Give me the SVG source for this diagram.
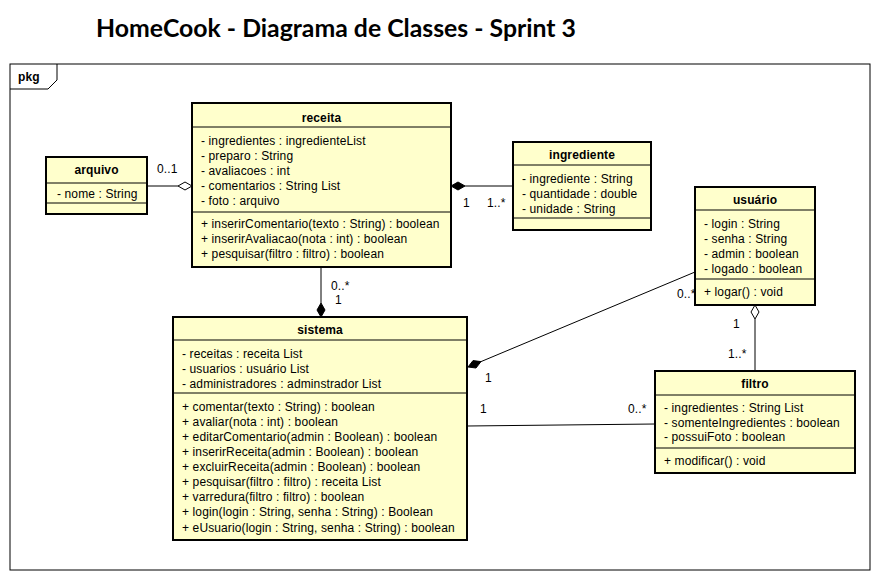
<svg xmlns="http://www.w3.org/2000/svg" width="892" height="582" viewBox="0 0 892 582">
<style>
.box{fill:#FFFFCC;stroke:#000;stroke-width:2}
.sep{stroke:#000;stroke-width:1}
.t{font-family:"Liberation Sans",Arial,sans-serif;font-size:12px;fill:#000;letter-spacing:0.12px}
.b{font-weight:bold;text-anchor:middle}
.ln{stroke:#000;stroke-width:1;fill:none}
.hd{fill:#fff;stroke:#000;stroke-width:1}
.fd{fill:#000;stroke:#000;stroke-width:1}
</style>
<rect width="892" height="582" fill="#fff"/>
<text x="96" y="37" font-family="Lato,'Open Sans',sans-serif" font-weight="bold" font-size="25" textLength="480" lengthAdjust="spacingAndGlyphs">HomeCook - Diagrama de Classes - Sprint 3</text>
<g id="pkg">
<rect x="10" y="64" width="860" height="506" fill="none" stroke="#000" stroke-width="1"/>
<path d="M10,89 H48 L57,80 V64" fill="none" stroke="#000" stroke-width="1"/>
<text class="t" x="18" y="81" font-weight="bold">pkg</text>
</g>
<g id="connectors">
<line class="ln" x1="147" y1="186" x2="178" y2="186"/>
<polygon class="hd" points="192,186 185,182 178,186 185,190"/>
<text class="t" x="157" y="173">0..1</text>
<polygon class="fd" points="451,186 458,182 465,186 458,190"/>
<line class="ln" x1="465" y1="186" x2="513" y2="186"/>
<text class="t" x="463" y="207">1</text>
<text class="t" x="487" y="207">1..*</text>
<line class="ln" x1="321" y1="267" x2="321" y2="303"/>
<polygon class="fd" points="321,317 325,310 321,303 317,310"/>
<text class="t" x="331" y="290">0..*</text>
<text class="t" x="335" y="304">1</text>
<polygon class="fd" points="468,367 476,368 481,361.6 473,360.6"/>
<line class="ln" x1="481" y1="361.6" x2="695" y2="272"/>
<text class="t" x="485" y="382">1</text>
<text class="t" x="677" y="298">0..*</text>
<line class="ln" x1="467" y1="426" x2="655" y2="424"/>
<text class="t" x="480" y="413">1</text>
<text class="t" x="628" y="413">0..*</text>
<polygon class="hd" points="755,305 759,312 755,319 751,312"/>
<line class="ln" x1="755" y1="319" x2="755" y2="371"/>
<text class="t" x="733" y="328">1</text>
<text class="t" x="728" y="358">1..*</text>
</g>
<g id="receita">
<rect class="box" x="192" y="103" width="259" height="164"/>
<line class="sep" x1="192" y1="127" x2="451" y2="127"/>
<line class="sep" x1="192" y1="212" x2="451" y2="212"/>
<text class="t b" x="321.5" y="122">receita</text>
<text class="t" x="201" y="145">- ingredientes : ingredienteList</text>
<text class="t" x="201" y="160">- preparo : String</text>
<text class="t" x="201" y="175">- avaliacoes : int</text>
<text class="t" x="201" y="190">- comentarios : String List</text>
<text class="t" x="201" y="205">- foto : arquivo</text>
<text class="t" x="201" y="228">+ inserirComentario(texto : String) : boolean</text>
<text class="t" x="201" y="243">+ inserirAvaliacao(nota : int) : boolean</text>
<text class="t" x="201" y="258">+ pesquisar(filtro : filtro) : boolean</text>
</g>
<g id="arquivo">
<rect class="box" x="46" y="157" width="101" height="57"/>
<line class="sep" x1="46" y1="183" x2="147" y2="183"/>
<line class="sep" x1="46" y1="203" x2="147" y2="203"/>
<text class="t b" x="96.5" y="174">arquivo</text>
<text class="t" x="57" y="198">- nome : String</text>
</g>
<g id="ingrediente">
<rect class="box" x="513" y="142" width="138" height="88"/>
<line class="sep" x1="513" y1="165" x2="651" y2="165"/>
<line class="sep" x1="513" y1="218" x2="651" y2="218"/>
<text class="t b" x="582" y="159">ingrediente</text>
<text class="t" x="522" y="183">- ingrediente : String</text>
<text class="t" x="522" y="198">- quantidade : double</text>
<text class="t" x="522" y="213">- unidade : String</text>
</g>
<g id="usuario">
<rect class="box" x="695" y="187" width="120" height="118"/>
<line class="sep" x1="695" y1="210" x2="815" y2="210"/>
<line class="sep" x1="695" y1="279" x2="815" y2="279"/>
<text class="t b" x="755" y="204">usuário</text>
<text class="t" x="704" y="228">- login : String</text>
<text class="t" x="704" y="243">- senha : String</text>
<text class="t" x="704" y="258">- admin : boolean</text>
<text class="t" x="704" y="273">- logado : boolean</text>
<text class="t" x="704" y="296">+ logar() : void</text>
</g>
<g id="sistema">
<rect class="box" x="173" y="317" width="294" height="223"/>
<line class="sep" x1="173" y1="340" x2="467" y2="340"/>
<line class="sep" x1="173" y1="393" x2="467" y2="393"/>
<text class="t b" x="320" y="334">sistema</text>
<text class="t" x="182" y="358">- receitas : receita List</text>
<text class="t" x="182" y="373">- usuarios : usuário List</text>
<text class="t" x="182" y="388">- administradores : adminstrador List</text>
<text class="t" x="182" y="411">+ comentar(texto : String) : boolean</text>
<text class="t" x="182" y="426">+ avaliar(nota : int) : boolean</text>
<text class="t" x="182" y="441">+ editarComentario(admin : Boolean) : boolean</text>
<text class="t" x="182" y="456">+ inserirReceita(admin : Boolean) : boolean</text>
<text class="t" x="182" y="471">+ excluirReceita(admin : Boolean) : boolean</text>
<text class="t" x="182" y="486">+ pesquisar(filtro : filtro) : receita List</text>
<text class="t" x="182" y="501">+ varredura(filtro : filtro) : boolean</text>
<text class="t" x="182" y="516">+ login(login : String, senha : String) : Boolean</text>
<text class="t" x="182" y="532">+ eUsuario(login : String, senha : String) : boolean</text>
</g>
<g id="filtro">
<rect class="box" x="655" y="371" width="200" height="102"/>
<line class="sep" x1="655" y1="395" x2="855" y2="395"/>
<line class="sep" x1="655" y1="448" x2="855" y2="448"/>
<text class="t b" x="755" y="388">filtro</text>
<text class="t" x="664" y="412">- ingredientes : String List</text>
<text class="t" x="664" y="427">- somenteIngredientes : boolean</text>
<text class="t" x="664" y="441">- possuiFoto : boolean</text>
<text class="t" x="664" y="465">+ modificar() : void</text>
</g>
</svg>
